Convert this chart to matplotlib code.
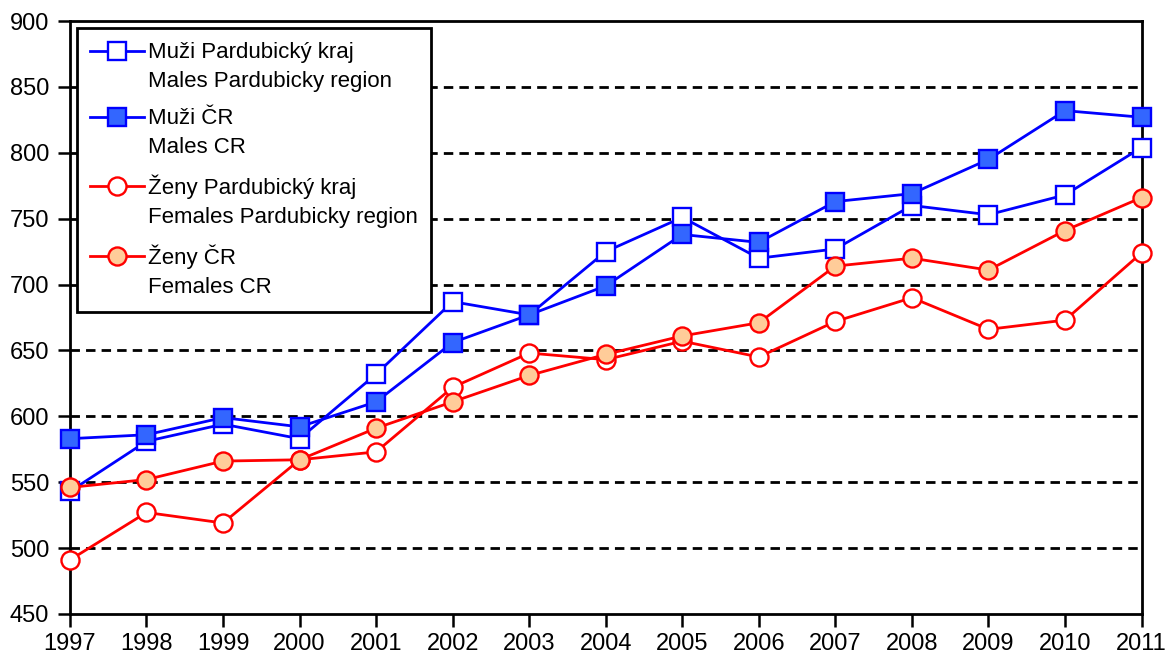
import matplotlib
matplotlib.use("Agg")
import matplotlib.pyplot as plt
from matplotlib.legend_handler import HandlerLine2D

plt.rcParams['font.family'] = ['Liberation Sans', 'DejaVu Sans']

roky = list(range(1997, 2012))

muzi_pce = [543, 581, 594, 583, 632, 687, 677, 725, 751, 720, 727, 760, 753, 768, 804]
muzi_cr = [583, 586, 599, 592, 611, 656, 677, 699, 738, 732, 763, 769, 795, 832, 827]
zeny_pce = [491, 527, 519, 567, 573, 622, 648, 643, 657, 645, 672, 690, 666, 673, 724]
zeny_cr = [546, 552, 566, 567, 591, 611, 631, 647, 661, 671, 714, 720, 711, 741, 766]

popisky = ["Muži Pardubický kraj\nMales Pardubicky region",
           "Muži ČR\nMales CR",
           "Ženy Pardubický kraj\nFemales Pardubicky region",
           "Ženy ČR\nFemales CR"]


# znacka v legende u prvniho radku popisku, ne uprostred
class HandlerNahore(HandlerLine2D):
    def create_artists(self, legend, orig_handle, xdescent, ydescent,
                       width, height, fontsize, trans):
        posun = 0.72 * fontsize
        return super().create_artists(legend, orig_handle, xdescent,
                                      ydescent - 2 * posun, width, height,
                                      fontsize, trans)


fig = plt.figure(figsize=(11.66, 6.58), dpi=100)
ax = fig.add_axes([0.060, 0.067, 0.919, 0.901])

styl = dict(lw=2.0, ms=13, mew=1.7, clip_on=False, zorder=6)
ax.plot(roky, muzi_pce, color='#0000FF', marker='s', mfc='white',
        mec='#0000FF', label=popisky[0], **styl)
ax.plot(roky, muzi_cr, color='#0000FF', marker='s', mfc='#3366FF',
        mec='#0000FF', label=popisky[1], **styl)
ax.plot(roky, zeny_pce, color='#FF0000', marker='o', mfc='white',
        mec='#FF0000', label=popisky[2], **styl)
ax.plot(roky, zeny_cr, color='#FF0000', marker='o', mfc='#FFCC99',
        mec='#FF0000', label=popisky[3], **styl)

ax.set_xlim(1997, 2011)
ax.set_ylim(450, 900)
ax.set_xticks(roky)
ax.set_yticks(range(450, 901, 50))
ax.tick_params(axis='both', labelsize=17, direction='out', length=9, width=1.8)
ax.tick_params(axis='x', pad=5)
ax.tick_params(axis='y', pad=6)
for s in ax.spines.values():
    s.set_linewidth(2.0)
    s.set_zorder(5)

for y in range(500, 900, 50):
    ax.axhline(y, color='black', lw=2.0, ls=(0, (3.4, 2.2)), zorder=1)

leg = ax.legend(loc='upper left', bbox_to_anchor=(0.0065, 0.988), fontsize=16,
                fancybox=False, framealpha=1, edgecolor='black',
                handlelength=2.4, labelspacing=0.72, borderpad=0.6,
                borderaxespad=0, handletextpad=0.2,
                handler_map={plt.Line2D: HandlerNahore()})
leg.get_frame().set_linewidth(2.0)
leg.set_zorder(7)
for t in leg.get_texts():
    t.set_linespacing(1.53)

fig.savefig("out.png", dpi=100)
